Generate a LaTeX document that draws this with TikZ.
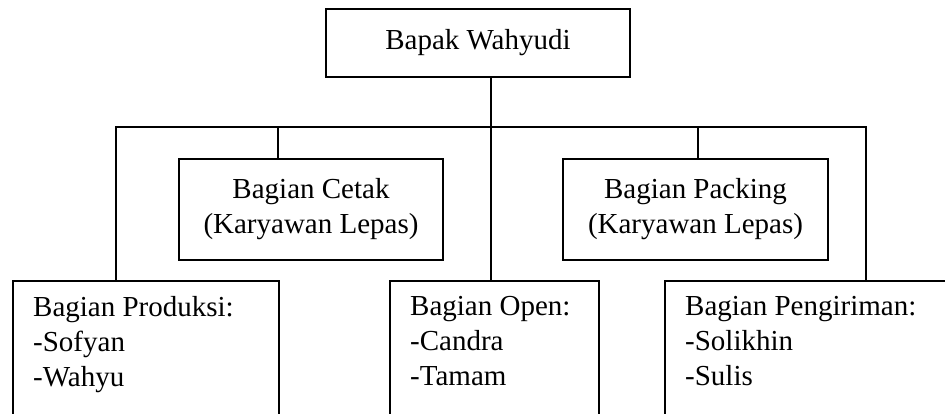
\documentclass[tikz,border=0pt]{standalone}
\usepackage{fontspec}
\setmainfont{Liberation Serif}
\usepackage{tikz}
\usetikzlibrary{positioning}
\tikzset{
  unit/.style={draw,rectangle,line width=1.5pt,inner sep=0},
  staff/.style={anchor=north west,align=left,inner sep=0,xshift=21pt,yshift=-16pt},
  link/.style={line width=1.5pt}
}

\begin{document}
\begin{tikzpicture}[x=1pt,y=-1pt, every node/.style={font=\fontsize{29}{35}\selectfont}]
  \useasboundingbox (0,0) rectangle (945,414);
  \clip (0,0) rectangle (945,414);

  % Head
  \node[unit,minimum width=304pt,minimum height=68pt] (head) at (478,43) {Bapak Wahyudi};

  % Freelance units
  \node[unit,minimum width=264pt,minimum height=101pt,align=center] (cetak) at (311,209.5) {Bagian Cetak\\(Karyawan Lepas)};
  \node[unit,minimum width=265pt,minimum height=101pt,align=center] (packing) at (695.5,209.5) {Bagian Packing\\(Karyawan Lepas)};

  % Bottom units (cut off by the page edge)
  \node[unit,anchor=north west,minimum width=266pt,minimum height=160pt,
    label={[staff]north west:{Bagian Produksi:\\-Sofyan\\-Wahyu}}] (produksi) at (12,280) {};
  \node[unit,anchor=north west,minimum width=209pt,minimum height=160pt,
    label={[staff]north west:{Bagian Open:\\-Candra\\-Tamam}}] (open) at (389,280) {};
  \node[unit,anchor=north west,minimum width=300pt,minimum height=160pt,
    label={[staff]north west:{Bagian Pengiriman:\\-Solikhin\\-Sulis}}] (pengiriman) at (664,280) {};

  % Bus line and taps
  \coordinate (busL) at (116,127);
  \coordinate (busR) at (866,127);
  \coordinate (tapO) at (491,127);
  \coordinate (tapC) at (278,127);
  \coordinate (tapP) at (698,127);

  \draw[link] (tapO |- head.south) -- (tapO |- open.north);
  \draw[link] (busL |- produksi.north) -- (busL) -- (busR) -- (busR |- pengiriman.north);
  \draw[link] (tapC) -- (tapC |- cetak.north);
  \draw[link] (tapP) -- (tapP |- packing.north);

\end{tikzpicture}
\end{document}
